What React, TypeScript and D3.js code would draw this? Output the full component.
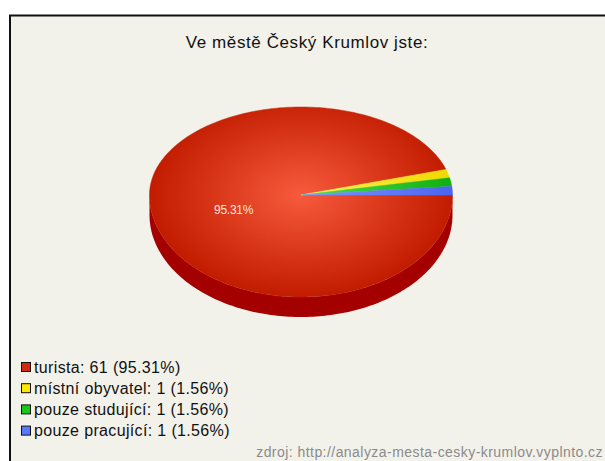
import { useEffect, useRef } from "react";
import * as d3 from "d3";

const categories = ["turista", "místní obyvatel", "pouze studující", "pouze pracující"];
const counts = [61, 1, 1, 1];
const colors = ["#d42a0c", "#ffe800", "#18c818", "#5a78ff"];
const lightColors = ["#f75a3c", "#fff35a", "#50e050", "#8099ff"];
const darkColors = ["#c21c00", "#f0d800", "#10b010", "#4a64f0"];
const sideColors = ["#a50000", "#c8b400", "#0e900e", "#3040c0"];
const title = "Ve městě Český Krumlov jste:";
const source = "zdroj: http://analyza-mesta-cesky-krumlov.vyplnto.cz";

export default function App() {
  const svgRef = useRef<SVGSVGElement>(null);

  useEffect(() => {
    const width = 605;
    const height = 461;
    const cx = 301;
    const cy = 195;
    const rx = 151.5;
    const ryTop = 88; // far half (perspective)
    const ryBot = 102; // near half
    const depth = 20;

    const svg = d3.select(svgRef.current).attr("width", width).attr("height", height);
    svg.selectAll("*").remove();

    svg.append("rect").attr("width", width).attr("height", height).attr("fill", "#ffffff");
    svg.append("rect")
      .attr("x", 10).attr("y", 15.5)
      .attr("width", width + 10).attr("height", height)
      .attr("fill", "#f3f2ea")
      .attr("stroke", "#111").attr("stroke-width", 2);

    svg.append("text")
      .attr("x", 307).attr("y", 48)
      .attr("text-anchor", "middle")
      .attr("font-family", "Liberation Sans, Arial, sans-serif")
      .attr("font-size", 17)
      .attr("letter-spacing", 0.6)
      .attr("fill", "#111")
      .text(title);

    const total = d3.sum(counts);
    const data = categories.map((c, i) => ({ name: c, value: counts[i], i }));

    // angles clockwise starting at 3 o'clock
    const pie = d3.pie<any>().sort(null).value(d => d.value)
      .startAngle(Math.PI / 2).endAngle(Math.PI / 2 + 2 * Math.PI);
    const arcs = pie(data);

    const ryAt = (t: number) => (Math.sin(t) < 0 ? ryTop : ryBot);
    const px = (t: number) => cx + rx * Math.cos(t);
    const py = (t: number) => cy + ryAt(t) * Math.sin(t);

    // outline of the top face between two angles, sampled
    const rim = (t0: number, t1: number, dy = 0) => {
      const n = Math.max(2, Math.ceil(Math.abs(t1 - t0) / 0.02));
      return d3.range(n + 1).map(k => {
        const t = t0 + (t1 - t0) * k / n;
        return [px(t), py(t) + dy] as [number, number];
      });
    };
    const line = d3.line();

    const defs = svg.append("defs");
    colors.forEach((_, i) => {
      const g = defs.append("radialGradient")
        .attr("id", "grad" + i)
        .attr("gradientUnits", "userSpaceOnUse")
        .attr("cx", 0).attr("cy", 0).attr("r", rx)
        .attr("gradientTransform", `translate(${cx},${cy}) scale(1,${ryBot / rx})`);
      g.append("stop").attr("offset", "0%").attr("stop-color", lightColors[i]);
      g.append("stop").attr("offset", "100%").attr("stop-color", darkColors[i]);
    });

    // side walls for visible front half (screen angles 0..PI)
    const side = svg.append("g");
    arcs.forEach(a => {
      const t0 = Math.max(a.startAngle - Math.PI / 2, 0);
      const t1 = Math.min(a.endAngle - Math.PI / 2, Math.PI);
      if (t1 <= t0) return;
      const pts = rim(t0, t1).concat(rim(t1, t0, depth));
      side.append("path").attr("d", line(pts) + "Z").attr("fill", sideColors[a.data.i]);
    });

    // top face
    const top = svg.append("g");
    arcs.forEach(a => {
      const t0 = a.startAngle - Math.PI / 2;
      const t1 = a.endAngle - Math.PI / 2;
      const pts = [[cx, cy] as [number, number]].concat(rim(t0, t1));
      top.append("path").attr("d", line(pts) + "Z")
        .attr("fill", `url(#grad${a.data.i})`)
        .attr("stroke", `url(#grad${a.data.i})`).attr("stroke-width", 0.5);
    });

    // label of the big slice
    const big = arcs[0];
    const mid = (big.startAngle + big.endAngle) / 2 - Math.PI / 2;
    svg.append("text")
      .attr("x", cx + 0.45 * rx * Math.cos(mid))
      .attr("y", cy + 0.45 * ryAt(mid) * Math.sin(mid) + 12)
      .attr("text-anchor", "middle")
      .attr("font-family", "Liberation Sans, Arial, sans-serif")
      .attr("font-size", 12)
      .attr("letter-spacing", -0.3)
      .attr("fill", "#ffe6dc")
      .text(d3.format(".2f")(big.data.value / total * 100) + "%");

    // legend
    const legend = svg.append("g").attr("transform", "translate(21,362)");
    data.forEach((d, i) => {
      const row = legend.append("g").attr("transform", `translate(0,${i * 21.2})`);
      row.append("rect")
        .attr("x", 0.5).attr("y", 0.5).attr("width", 9).attr("height", 9)
        .attr("fill", colors[i]).attr("stroke", "#111").attr("stroke-width", 1);
      row.append("text")
        .attr("x", 13).attr("y", 10.5)
        .attr("font-family", "Liberation Sans, Arial, sans-serif")
        .attr("font-size", 16)
        .attr("letter-spacing", 0.35)
        .attr("fill", "#111")
        .text(`${d.name}: ${d.value} (${d3.format(".2f")(d.value / total * 100)}%)`);
    });

    svg.append("text")
      .attr("x", 603).attr("y", 457)
      .attr("text-anchor", "end")
      .attr("font-family", "Liberation Sans, Arial, sans-serif")
      .attr("font-size", 14)
      .attr("letter-spacing", 0.45)
      .attr("fill", "#8a8a8a")
      .text(source);
  }, []);

  return (
    <div style={{ position: "absolute", left: 0, top: 0 }}>
      <svg ref={svgRef} style={{ display: "block" }}></svg>
    </div>
  );
}
